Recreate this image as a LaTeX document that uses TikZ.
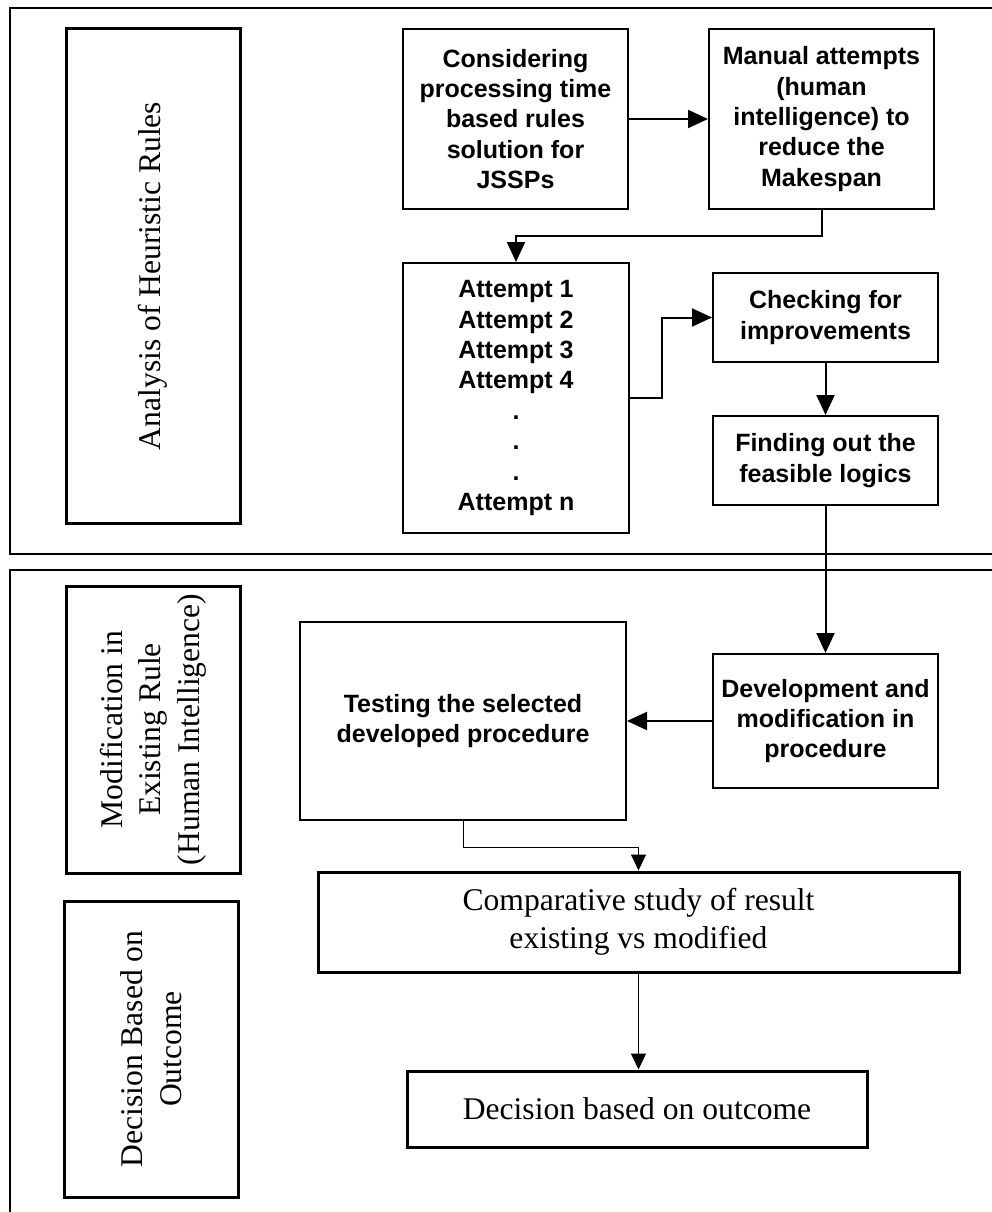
\documentclass[tikz,border=0pt]{standalone}
\usepackage{fontspec}
\setmainfont{Liberation Serif}
\setsansfont{Liberation Sans}
\usetikzlibrary{arrows.meta}

\begin{document}
\begin{tikzpicture}[x=1pt,y=-1pt,
  frame/.style={line width=1.2pt},
  sidebox/.style={draw, line width=3pt, rotate=90, inner sep=0pt,
    minimum height=174pt, align=center,
    font=\fontsize{31.6}{38.5}\selectfont},
  flowbox/.style={draw, line width=2pt, inner sep=0pt, align=center,
    font=\sffamily\bfseries\fontsize{25}{30.4}\selectfont},
  plainbox/.style={draw, line width=3pt, inner sep=0pt, align=center,
    font=\fontsize{31.6}{38.5}\selectfont},
  link/.style={line width=2pt, -{Triangle[length=20pt,width=18pt]}},
  thinlink/.style={line width=1pt, -{Triangle[length=16pt,width=15pt]}},
]
\useasboundingbox (0,0) rectangle (992,1212);

% section frames
\draw[frame] (992,8) -- (10,8) -- (10,554) -- (992,554);
\draw[frame] (992,570) -- (10,570) -- (10,1212);

% section labels
\node[sidebox, minimum width=494pt] (lab1) at (153,276) {Analysis of Heuristic Rules};
\node[sidebox, minimum width=287pt] (lab2) at (153,729.5) {Modification in\\Existing Rule\\(Human Intelligence)};
\node[sidebox, minimum width=296pt] (lab3) at (151,1049) {Decision Based on\\Outcome};

% flow boxes
\node[flowbox, minimum width=225pt, minimum height=180pt] (consider) at (515.5,119)
  {Considering\\processing time\\based rules\\solution for\\JSSPs};
\node[flowbox, minimum width=225pt, minimum height=180pt] (manual) at (821.5,119)
  {Manual attempts\\(human\\intelligence) to\\reduce the\\Makespan};
\node[flowbox, minimum width=226pt, minimum height=270pt] (attempts) at (516,398)
  {Attempt 1\\Attempt 2\\Attempt 3\\Attempt 4\\.\\.\\.\\Attempt n};
\node[flowbox, minimum width=225pt, minimum height=89pt] (check) at (825.5,317.5)
  {Checking for\\improvements};
\node[flowbox, minimum width=225pt, minimum height=89pt] (find) at (825.5,460.5)
  {Finding out the\\feasible logics};
\node[flowbox, minimum width=225pt, minimum height=134pt] (develop) at (825.5,721)
  {Development and\\modification in\\procedure};
\node[flowbox, minimum width=326pt, minimum height=198pt] (testing) at (463,721)
  {Testing the selected\\developed procedure};
\node[plainbox, minimum width=641pt, minimum height=100pt] (compare) at (638.5,922)
  {Comparative study of result\\existing vs modified};
\node[plainbox, minimum width=460pt, minimum height=76pt] (decide) at (637,1109)
  {Decision based on outcome};

% connectors
\coordinate (bend1) at (821.5,236);
\coordinate (bend2) at (662,398);
\coordinate (bend3) at (463,847);

\draw[link] (consider.east) -- (manual.west);
\draw[link] (manual.south) -- (bend1) -| (attempts.north);
\draw[link] (attempts.east) -- (bend2) |- (check.west);
\draw[link] (check.south) -- (find.north);
\draw[link] (find.south) -- (develop.north);
\draw[link] (develop.west) -- (testing.east);
\draw[thinlink] (testing.south) -- (bend3) -| (compare.north);
\draw[thinlink] (compare.south) -- (compare.south |- decide.north);
\end{tikzpicture}
\end{document}
